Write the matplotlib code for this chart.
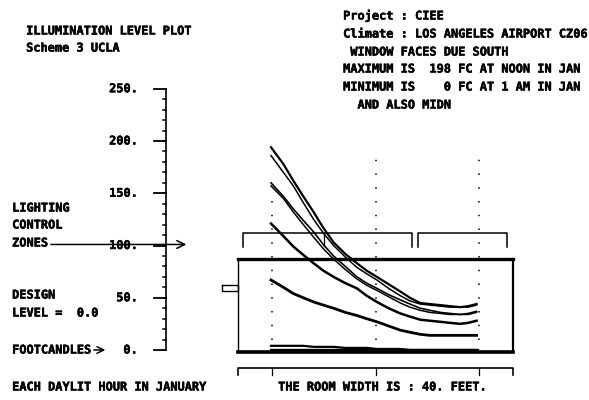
import matplotlib
matplotlib.use('Agg')
import matplotlib.pyplot as plt
import matplotlib.patheffects as pe

# positions along the room in feet, levels in footcandles
pos = [4.8, 6.6, 8.05, 9.5, 11, 12.4, 13.9, 15.6, 17.3, 18.7, 20.2, 21.9, 23.6, 25, 26.5, 27.9, 29.4, 30.8, 32.3, 33.5, 34.7]
hour1 = [194, 178, 162, 147, 132, 117, 103, 92, 83, 76, 70, 63, 56, 50, 45, 44, 43, 42, 41, 42, 44]
hour2 = [186, 170, 157, 141, 125, 112, 100, 89, 79, 73, 67, 59, 52, 47, 44, 43, 42, 41, 41, 41, 43]
hour3 = [160, 147, 135, 124, 113, 101, 90, 80, 70, 64, 59, 53, 48, 44, 40, 38, 36, 35, 34, 35, 37]
hour4 = [157, 145, 132, 120, 108, 97, 87, 77, 68, 62, 57, 51, 45, 41, 38, 36, 35, 34, 34, 34, 36]
hour5 = [121, 109, 99, 91, 83, 76, 70, 64, 59, 52, 46, 40, 35, 32, 29, 28, 27, 26, 25, 26, 28]
hour6 = [67, 60, 54, 50, 46, 43, 40, 36, 33, 30, 27, 23, 19, 17, 15, 14, 14, 14, 14, 14, 14]
hour7 = [4, 4, 4, 4, 3, 3, 3, 2, 2, 2, 1, 1, 1, 0, 0, 0, 0, 0, 0, 0, 0]
hour8 = [0] * 21

y_ticks = [0, 50, 100, 150, 200, 250]
y_labels = ['0.', '50.', '100.', '150.', '200.', '250.']
x_ticks = [5, 20, 35]
dot_tops = [150, 185, 185]

fig = plt.figure(figsize=(5.89, 4.0), dpi=100)
ax = fig.add_axes([0, 0, 1, 1])
ax.set_xlim(-238 / 6.875, (589 - 238) / 6.875)
ax.set_ylim(-50 / 1.045, 350 / 1.045)
ax.axis('off')

px = 1 / 6.875   # one pixel in feet
py = 1 / 1.045   # one pixel in footcandles
font = dict(family='DejaVu Sans Mono', fontweight='bold', fontsize=8.6, color='black', va='center',
            path_effects=[pe.withStroke(linewidth=0.35, foreground='black')])

# room outline and dotted grid
ax.plot([0, 40], [87, 87], color='k', lw=2.4)
ax.plot([0, 40], [-2, -2], color='k', lw=2.6)
ax.plot([0, 0], [-2, 87], color='k', lw=1.0)
ax.plot([40, 40], [-2, 87], color='k', lw=1.6)
ax.plot([-2.4, 0, 0, -2.4, -2.4], [62, 62, 56, 56, 62], color='k', lw=1.0)
for x, top in zip(x_ticks, dot_tops):
    ax.plot([x, x], [10, top], color='k', lw=1.1, ls=(0, (1, 8)))

# lighting zone brackets
ax.plot([0.75, 0.75, 25.3, 25.3], [99, 112, 112, 99], color='k', lw=1.1)
ax.plot([12.5, 12.5], [100, 112], color='k', lw=0.9)
ax.plot([26.2, 26.2, 39.1, 39.1], [99, 112, 112, 99], color='k', lw=1.1)

# room width bracket
ax.plot([0, 0, 40, 40], [-24, -17, -17, -24], color='k', lw=1.2)
for x in x_ticks:
    ax.plot([x, x], [-17, -24], color='k', lw=0.9)

# level axis
ax.plot([-10.47, -10.47], [0, 250], color='k', lw=1.2)
for v in range(0, 250, 10):
    ax.plot([-10.9, -10.47], [v, v], color='k', lw=1.1)
for v, s in zip(y_ticks, y_labels):
    ax.plot([-12.2, -10.47], [v, v], color='k', lw=1.3)
    ax.text(-14.6, v, s, ha='right', **font)

# curves
for vals, lw in [(hour1, 1.6), (hour2, 1.1), (hour3, 1.2), (hour4, 1.1), (hour5, 1.8), (hour6, 2.0), (hour7, 1.6), (hour8, 2.4)]:
    ax.plot(pos, vals, color='k', lw=lw)

# arrow from the zones label
ax.annotate('', xy=(189 * px - 34.6, 101), xytext=(48 * px - 34.6, 101),
            arrowprops=dict(arrowstyle='->', color='k', lw=1.1, mutation_scale=14))

lines = [(26, 31, 'ILLUMINATION LEVEL PLOT'), (26, 48, 'Scheme 3 UCLA'),
         (12, 208, 'LIGHTING'), (12, 225, 'CONTROL'), (12, 243, 'ZONES'),
         (12, 295, 'DESIGN'), (12, 313, 'LEVEL =  0.0'),
         (12, 350, 'FOOTCANDLES'), (12, 387, 'EACH DAYLIT HOUR IN JANUARY'),
         (343, 16, 'Project : CIEE'), (343, 34, 'Climate : LOS ANGELES AIRPORT CZ06'),
         (343, 52, ' WINDOW FACES DUE SOUTH'), (343, 69, 'MAXIMUM IS  198 FC AT NOON IN JAN'),
         (343, 87, 'MINIMUM IS    0 FC AT 1 AM IN JAN'), (343, 105, '  AND ALSO MIDN'),
         (278, 387, 'THE ROOM WIDTH IS : 40. FEET.')]
for tx, ty, s in lines:
    ax.text(tx * px - 34.6, (350 - ty) * py, s, ha='left', **font)

ax.annotate('', xy=(108 * px - 34.6, 0), xytext=(91 * px - 34.6, 0),
            arrowprops=dict(arrowstyle='->', color='k', lw=1.1, mutation_scale=12))

fig.savefig('out.png', dpi=100, facecolor='white')
